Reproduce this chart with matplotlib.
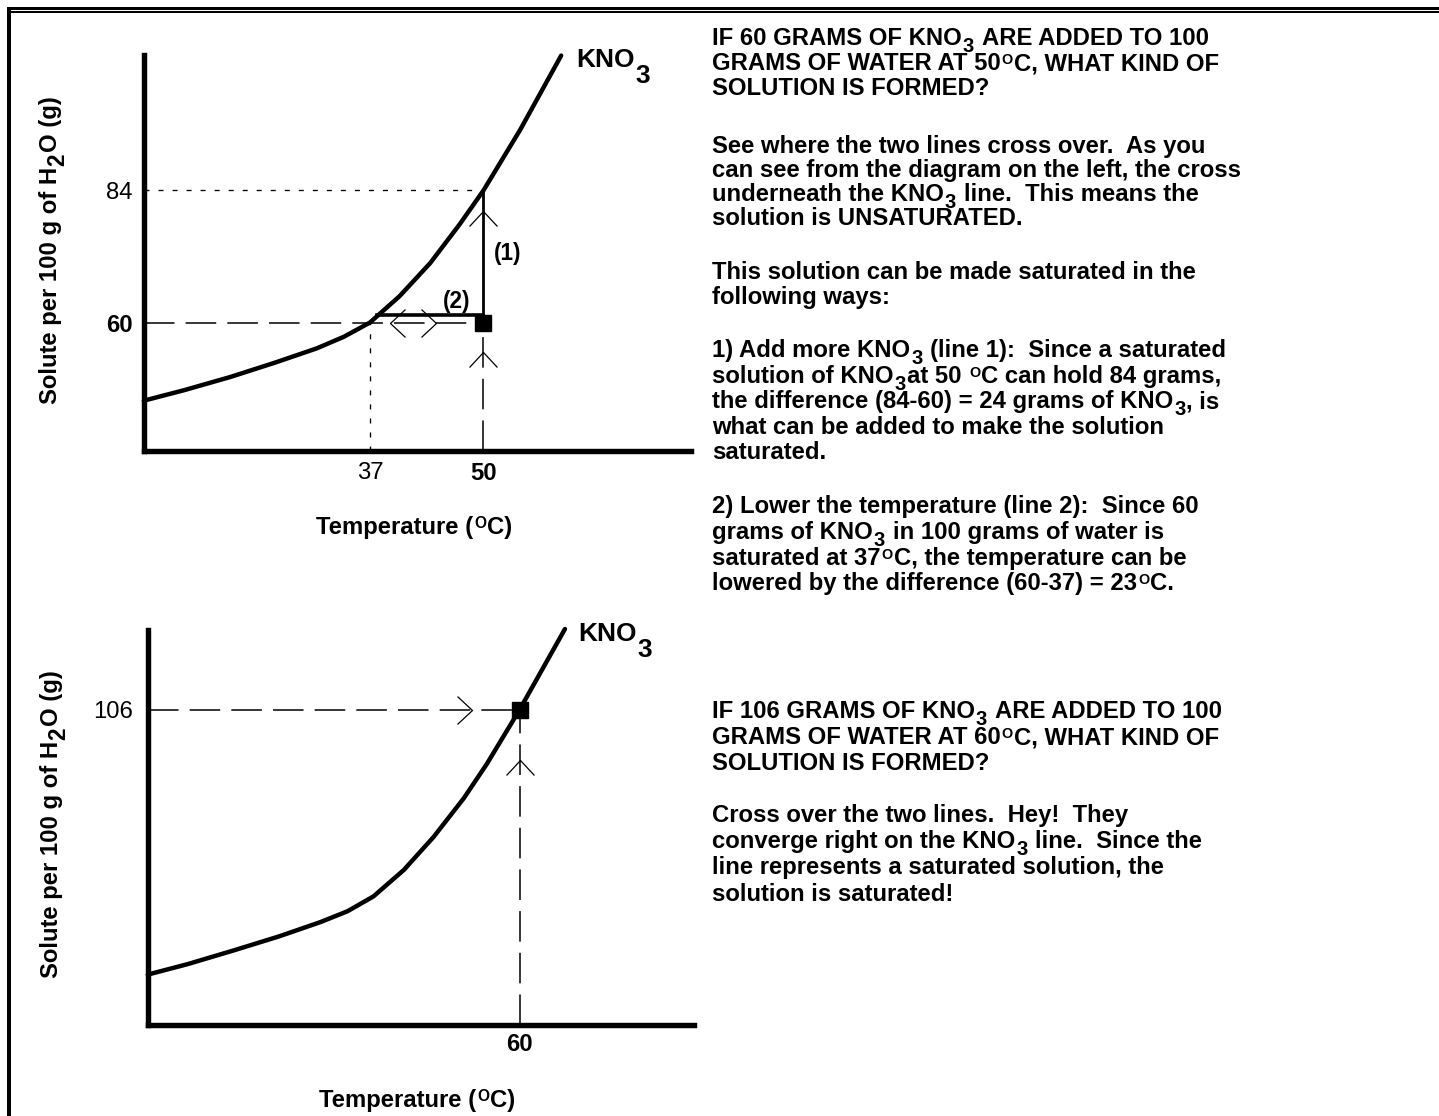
import numpy as np
import matplotlib
matplotlib.use('Agg')
import matplotlib.pyplot as plt
from matplotlib import font_manager as fm
from matplotlib.path import Path
from matplotlib.patches import Rectangle
from matplotlib.transforms import IdentityTransform

# ---------------- data ----------------
# upper diagram: KNO3 solubility curve (temperature in C, grams per 100 g water)
top_temp = [11.1, 15.7, 21.0, 26.1, 30.9, 34.0, 37.0, 40.4, 43.9, 47.3, 50.0, 54.2, 58.9]
top_solute = [45.8, 47.7, 50.1, 52.7, 55.3, 57.4, 60.0, 64.8, 70.8, 77.9, 84.0, 95.0, 108.5]
top_xticks = [37, 50]
top_xticklabels = ['37', '50']
top_yticks = [60, 84]
top_yticklabels = ['60', '84']
top_added = 60          # grams added
top_temp_given = 50     # temperature of the water
top_sat_amount = 84     # saturated amount at 50 C
top_sat_temp = 37       # temperature where 60 g is saturated
line2_start = 37.8      # solid line (2) start temperature
line2_level = 61.3      # solid line (2) level
top_arrow_left = 39.3   # "<" head on the 60 line
top_arrow_right = 44.6  # ">" head on the 60 line
top_arrow_up_low = 54.6  # "^" head on the dashed 50 line
top_arrow_up_high = 80.3  # "^" head on line (1)

# lower diagram
bot_temp = [0.0, 6.4, 13.8, 21.1, 27.9, 32.2, 36.4, 41.3, 46.1, 51.0, 54.7, 60.0, 67.3]
bot_solute = [16.8, 20.3, 24.9, 29.6, 34.5, 38.1, 43.1, 52.0, 63.1, 76.2, 87.7, 106.0, 133.1]
bot_xticks = [60]
bot_xticklabels = ['60']
bot_yticks = [106]
bot_yticklabels = ['106']
bot_added = 106
bot_temp_given = 60
bot_arrow_right = 52.3
bot_arrow_up = 88.9

# right-hand text
text_lines = [
    (45, "IF 60 GRAMS OF KNO_3 ARE ADDED TO 100"),
    (70, "GRAMS OF WATER AT 50^OC, WHAT KIND OF"),
    (95, "SOLUTION IS FORMED?"),
    (153, "See where the two lines cross over.  As you"),
    (177, "can see from the diagram on the left, the cross"),
    (201, "underneath the KNO_3 line.  This means the"),
    (225, "solution is UNSATURATED."),
    (279, "This solution can be made saturated in the"),
    (304, "following ways:"),
    (357, "1) Add more KNO_3 (line 1):  Since a saturated"),
    (383, "solution of KNO_3at 50 ^OC can hold 84 grams,"),
    (408, "the difference (84-60) = 24 grams of KNO_3, is"),
    (434, "what can be added to make the solution"),
    (459, "saturated."),
    (513, "2) Lower the temperature (line 2):  Since 60"),
    (539, "grams of KNO_3 in 100 grams of water is"),
    (565, "saturated at 37^OC, the temperature can be"),
    (590, "lowered by the difference (60-37) = 23^OC."),
    (718, "IF 106 GRAMS OF KNO_3 ARE ADDED TO 100"),
    (744, "GRAMS OF WATER AT 60^OC, WHAT KIND OF"),
    (770, "SOLUTION IS FORMED?"),
    (822, "Cross over the two lines.  Hey!  They"),
    (848, "converge right on the KNO_3 line.  Since the"),
    (874, "line represents a saturated solution, the"),
    (901, "solution is saturated!"),
]
ylabel_text = "Solute per 100 g of H_2O (g)"
xlabel_text = "Temperature (^OC)"
curve_label = "KNO_3"

# ---------------- setup ----------------
W, H = 1439, 1116
plt.rcParams['lines.scale_dashes'] = False
names = {f.name for f in fm.fontManager.ttflist}
if 'Liberation Sans Narrow' in names:
    FONT = 'Liberation Sans Narrow'
elif 'Liberation Sans' in names:
    FONT = 'Liberation Sans'
else:
    FONT = 'DejaVu Sans'
plt.rcParams['font.family'] = [FONT, 'DejaVu Sans']

fig = plt.figure(figsize=(W / 100, H / 100), dpi=100)
fig.patch.set_facecolor('white')
renderer = fig.canvas.get_renderer()


def fprop(size, weight='bold'):
    return fm.FontProperties(family=FONT, size=size, weight=weight)


def twidth(s, size, weight='bold'):
    if not s:
        return 0.0
    return renderer.get_text_width_height_descent(s, fprop(size, weight), ismath=False)[0]


# calibrate body size to the reference line width
BODY = 10 * 530.0 / twidth("can see from the diagram on the left, the cross", 10)


def parse(markup):
    segs, buf, i = [], '', 0
    while i < len(markup):
        c = markup[i]
        if c in '_^' and i + 1 < len(markup):
            if buf:
                segs.append((buf, 'n'))
                buf = ''
            segs.append((markup[i + 1], 'sub' if c == '_' else 'sup'))
            i += 2
            continue
        buf += c
        i += 1
    if buf:
        segs.append((buf, 'n'))
    return segs


def draw_runs(x, y, markup, size, weight='bold', rot=0, ha='left',
              sub_shift=0.4, sub_scale=0.85, sup_scale=0.6, sup_raise=1.0):
    cap = size * 100 / 72 * 0.72
    items, adv = [], 0.0
    for s, k in parse(markup):
        sz = size * (sub_scale if k == 'sub' else sup_scale if k == 'sup' else 1.0)
        sp = twidth('n n', sz, weight) - twidth('nn', sz, weight)
        lead = len(s) - len(s.lstrip(' '))
        trail = len(s) - len(s.rstrip(' '))
        core = s.strip(' ')
        adv += lead * sp
        if k == 'sub':
            shift = sub_shift * cap
        elif k == 'sup':
            shift = -(cap - sup_scale * cap) * sup_raise
        else:
            shift = 0.0
        if k != 'n':
            adv += 1
        items.append((core, sz, adv, shift))
        adv += twidth(core, sz, weight) + trail * sp + (1 if k != 'n' else 0)
    total = adv
    if rot == 0:
        d, n = (1, 0), (0, 1)
    else:
        d, n = (0, -1), (1, 0)
    off = -total / 2 if ha == 'center' else 0.0
    for core, sz, a, sh in items:
        if not core:
            continue
        px = x + (a + off) * d[0] + sh * n[0]
        py = y + (a + off) * d[1] + sh * n[1]
        fig.text(px, H - py, core, transform=IdentityTransform(),
                 fontproperties=fprop(sz, weight), rotation=rot,
                 rotation_mode='anchor', ha='left', va='baseline', color='black')


def make_axes(l, t, r, b, xlim, ylim):
    ax = fig.add_axes([l / W, 1 - b / H, (r - l) / W, (b - t) / H])
    ax.set_xlim(xlim)
    ax.set_ylim(ylim)
    ax.patch.set_alpha(0)
    for s in ['top', 'right']:
        ax.spines[s].set_visible(False)
    for s in ['left', 'bottom']:
        ax.spines[s].set_linewidth(3.9)
        ax.spines[s].set_capstyle('projecting')
    ax.tick_params(axis='both', length=0)
    return ax


def style_ticks(ax, xticks, xlabels, yticks, ylabels, xbold, ybold, size, xpad, ypad):
    ax.set_xticks(xticks, xlabels)
    ax.set_yticks(yticks, ylabels)
    ax.tick_params(axis='x', pad=xpad)
    ax.tick_params(axis='y', pad=ypad)
    for lbl, bold in zip(ax.get_xticklabels(), xbold):
        lbl.set_fontproperties(fprop(size, 'bold' if bold else 'normal'))
    for lbl, bold in zip(ax.get_yticklabels(), ybold):
        lbl.set_fontproperties(fprop(size, 'bold' if bold else 'normal'))


chev_up = Path([(-0.93, -1), (0, 0), (0.93, -1)], [Path.MOVETO, Path.LINETO, Path.LINETO])
chev_left = Path([(1, 0.93), (0, 0), (1, -0.93)], [Path.MOVETO, Path.LINETO, Path.LINETO])
chev_right = Path([(-1, 0.93), (0, 0), (-1, -0.93)], [Path.MOVETO, Path.LINETO, Path.LINETO])
CHEV = dict(ms=21.6, mfc='none', mec='black', mew=0.9, ls='none', clip_on=False)
DASH = dict(color='black', lw=1.1, dashes=(22.0, 8.0), clip_on=False)
DOT = dict(color='black', lw=0.95, dashes=(3.6, 6.5), clip_on=False)
CURVE = dict(color='black', lw=3.2, solid_capstyle='round', solid_joinstyle='round', clip_on=False)
TICK = BODY * 1.0

# ---------------- upper diagram ----------------
ax1 = make_axes(144.2, 55.4, 691, 450.7, (11.14, 73.77), (36.71, 108.53))
ax1.plot(top_temp, top_solute, **CURVE)
x0, y0 = ax1.get_xlim()[0], ax1.get_ylim()[0]
ax1.plot([x0, top_temp_given], [top_sat_amount, top_sat_amount], **DOT)
ax1.plot([top_sat_temp, top_sat_temp], [y0, top_added], **DOT)
ax1.plot([x0, top_temp_given], [top_added, top_added], **DASH)
ax1.plot([top_temp_given, top_temp_given], [y0, top_added], **DASH)
ax1.plot([top_temp_given, top_temp_given], [top_added, top_sat_amount], color='black', lw=2.0)
ax1.plot([line2_start, top_temp_given], [line2_level, line2_level], color='black', lw=2.6)
ax1.plot([top_temp_given], [top_added], marker='s', ms=11.5, color='black', ls='none', clip_on=False)
ax1.plot([top_arrow_left], [top_added], marker=chev_left, **CHEV)
ax1.plot([top_arrow_right], [top_added], marker=chev_right, **CHEV)
ax1.plot([top_temp_given], [top_arrow_up_low], marker=chev_up, **CHEV)
ax1.plot([top_temp_given], [top_arrow_up_high], marker=chev_up, **CHEV)
ax1.text(51.2, 72.6, '(1)', fontproperties=fprop(BODY * 0.95, 'bold'), ha='left', va='center')
ax1.text(46.9, 63.9, '(2)', fontproperties=fprop(BODY * 0.95, 'bold'), ha='center', va='center')
style_ticks(ax1, top_xticks, top_xticklabels, top_yticks, top_yticklabels,
            [False, True], [True, False], TICK, 8.0, 8.6)

# ---------------- lower diagram ----------------
ax2 = make_axes(147.8, 629.9, 694, 1024.5, (0, 88.12), (0, 132.8))
ax2.plot(bot_temp, bot_solute, **CURVE)
ax2.plot([0, bot_temp_given], [bot_added, bot_added], **DASH)
ax2.plot([bot_temp_given, bot_temp_given], [0, bot_added], **DASH)
ax2.plot([bot_temp_given], [bot_added], marker='s', ms=11.5, color='black', ls='none', clip_on=False)
ax2.plot([bot_arrow_right], [bot_added], marker=chev_right, **CHEV)
ax2.plot([bot_temp_given], [bot_arrow_up], marker=chev_up, **CHEV)
style_ticks(ax2, bot_xticks, bot_xticklabels, bot_yticks, bot_yticklabels,
            [True], [False], TICK, 6.0, 10.6)

# ---------------- labels ----------------
draw_runs(57, 250, ylabel_text, BODY, rot=90, ha='center', sub_shift=0.45, sub_scale=0.95)
draw_runs(58, 824, ylabel_text, BODY, rot=90, ha='center', sub_shift=0.45, sub_scale=0.95)
draw_runs(414, 534, xlabel_text, BODY, ha='center', sup_scale=0.65)
draw_runs(417, 1107, xlabel_text, BODY, ha='center', sup_scale=0.65)
draw_runs(576, 67, curve_label, BODY * 1.1, sub_shift=0.85, sub_scale=1.0)
draw_runs(578, 641, curve_label, BODY * 1.1, sub_shift=0.85, sub_scale=1.0)

for yb, line in text_lines:
    draw_runs(712, yb, line, BODY, sub_shift=0.4, sub_scale=0.85, sup_scale=0.6, sup_raise=0.9)

# ---------------- frame ----------------
def frame_rect(x0, y0, x1, y1):
    fig.add_artist(Rectangle((x0 / W, 1 - y1 / H), (x1 - x0) / W, (y1 - y0) / H,
                             transform=fig.transFigure, facecolor='black', edgecolor='none',
                             antialiased=False))

frame_rect(7, 7, W, 10)
frame_rect(11, 11, W, 13)
frame_rect(7, 7, 11, H)

fig.savefig('out.png', dpi=100, facecolor='white')
